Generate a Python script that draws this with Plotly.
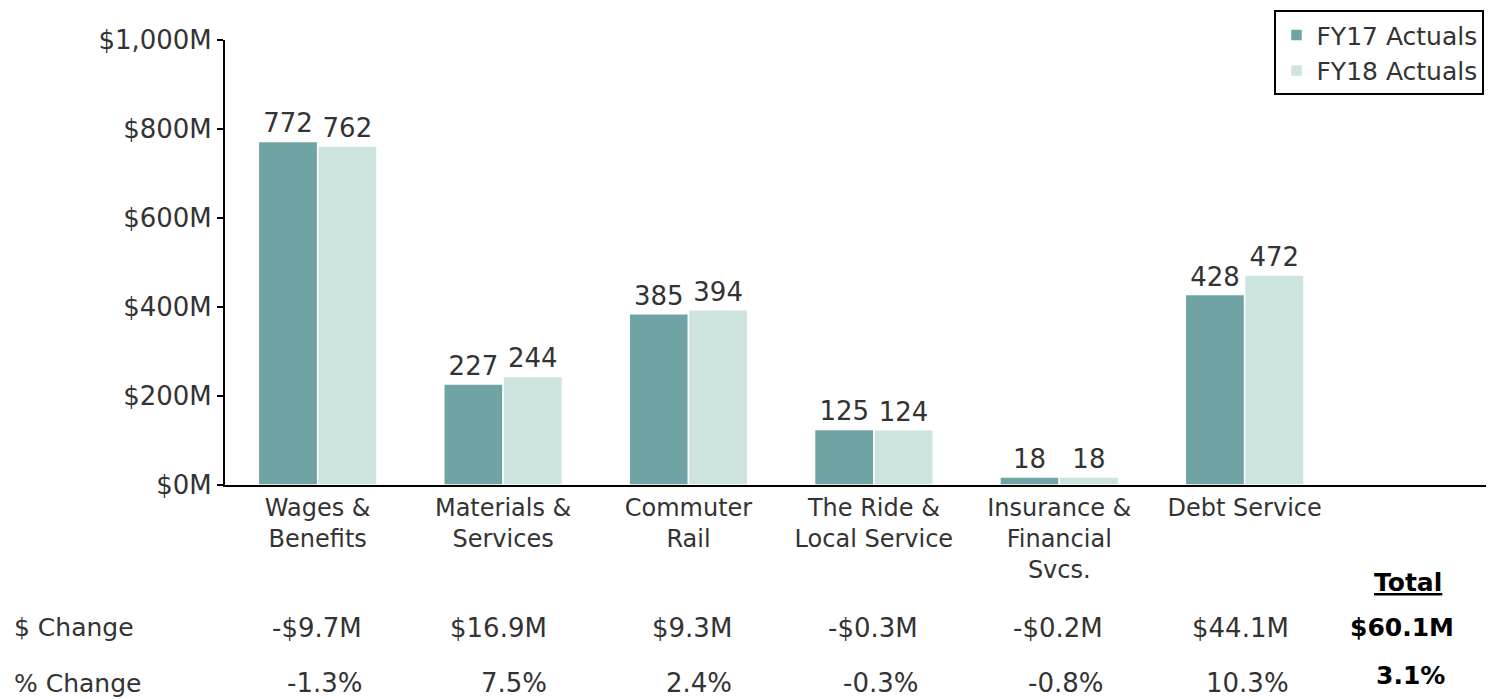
import plotly.graph_objects as go

categories = ["Wages &<br>Benefits", "Materials &<br>Services", "Commuter<br>Rail",
              "The Ride &<br>Local Service", "Insurance &<br>Financial<br>Svcs.", "Debt Service"]
fy17 = [772, 227, 385, 125, 18, 428]
fy18 = [762, 244, 394, 124, 18, 472]
dollar_change = ["-$9.7M", "$16.9M", "$9.3M", "-$0.3M", "-$0.2M", "$44.1M"]
pct_change = ["-1.3%", "7.5%", "2.4%", "-0.3%", "-0.8%", "10.3%"]
total_dollar = "$60.1M"
total_pct = "3.1%"
y_ticks = [0, 200, 400, 600, 800, 1000]
y_ticktext = ["$0M", "$200M", "$400M", "$600M", "$800M", "$1,000M"]

FONT = "DejaVu Sans"
TXT = "#333333"
xs = list(range(len(categories)))

fig = go.Figure()
fig.add_trace(go.Bar(x=xs, y=fy17, name="FY17 Actuals", marker_color="#70a4a4",
                     marker_line=dict(color="white", width=1.5),
                     text=[str(v) for v in fy17], textposition="outside",
                     textfont=dict(size=26, color=TXT, family=FONT), cliponaxis=False))
fig.add_trace(go.Bar(x=xs, y=fy18, name="FY18 Actuals", marker_color="#cde3e0",
                     marker_line=dict(color="white", width=1.5),
                     text=[str(v) for v in fy18], textposition="outside",
                     textfont=dict(size=26, color=TXT, family=FONT), cliponaxis=False))

anns = []
for i in xs:
    anns.append(dict(x=i, xref="x", y=-0.321, yref="paper", text=dollar_change[i],
                     xanchor="right", yanchor="middle", xshift=46, showarrow=False,
                     font=dict(size=26, color=TXT, family=FONT)))
    anns.append(dict(x=i, xref="x", y=-0.445, yref="paper", text=pct_change[i],
                     xanchor="right", yanchor="middle", xshift=46, showarrow=False,
                     font=dict(size=26, color=TXT, family=FONT)))
anns.append(dict(x=-0.168, xref="paper", y=-0.321, yref="paper", text="$ Change",
                 xanchor="left", yanchor="middle", showarrow=False,
                 font=dict(size=25, color=TXT, family=FONT)))
anns.append(dict(x=-0.168, xref="paper", y=-0.445, yref="paper", text="% Change",
                 xanchor="left", yanchor="middle", showarrow=False,
                 font=dict(size=25, color=TXT, family=FONT)))
anns.append(dict(x=0.932, xref="paper", y=-0.218, yref="paper", text="<b><u>Total</u></b>",
                 xanchor="center", yanchor="middle", showarrow=False,
                 font=dict(size=25, color="black", family=FONT)))
anns.append(dict(x=0.9275, xref="paper", y=-0.321, yref="paper", text="<b>" + total_dollar + "</b>",
                 xanchor="center", yanchor="middle", showarrow=False,
                 font=dict(size=25, color="black", family=FONT)))
anns.append(dict(x=0.934, xref="paper", y=-0.427, yref="paper", text="<b>" + total_pct + "</b>",
                 xanchor="center", yanchor="middle", showarrow=False,
                 font=dict(size=25, color="black", family=FONT)))

fig.update_layout(
    width=1486, height=691,
    margin=dict(l=217, r=0, t=32, b=214),
    paper_bgcolor="white", plot_bgcolor="white",
    font=dict(family=FONT, size=25, color=TXT),
    barmode="group", bargap=0.36, bargroupgap=0.0,
    showlegend=True,
    legend=dict(x=0.9925, y=1.067, xanchor="right", yanchor="top",
                bordercolor="black", borderwidth=2, bgcolor="white",
                font=dict(size=25, color=TXT, family=FONT),
                tracegroupgap=0, itemwidth=30),
    annotations=anns,
    xaxis=dict(range=[-0.5, 6.345], tickvals=xs, ticktext=categories,
               showline=True, linecolor="black", linewidth=2, showgrid=False,
               zeroline=False, ticks="", tickfont=dict(size=24, color=TXT, family=FONT)),
    yaxis=dict(range=[0, 1000], tickvals=y_ticks, ticktext=y_ticktext,
               showline=True, linecolor="black", linewidth=2, showgrid=False,
               zeroline=False, ticks="outside", ticklen=6, tickwidth=2, tickcolor="black",
               tickfont=dict(size=26, color=TXT, family=FONT)),
)
fig.write_html("out.html")
